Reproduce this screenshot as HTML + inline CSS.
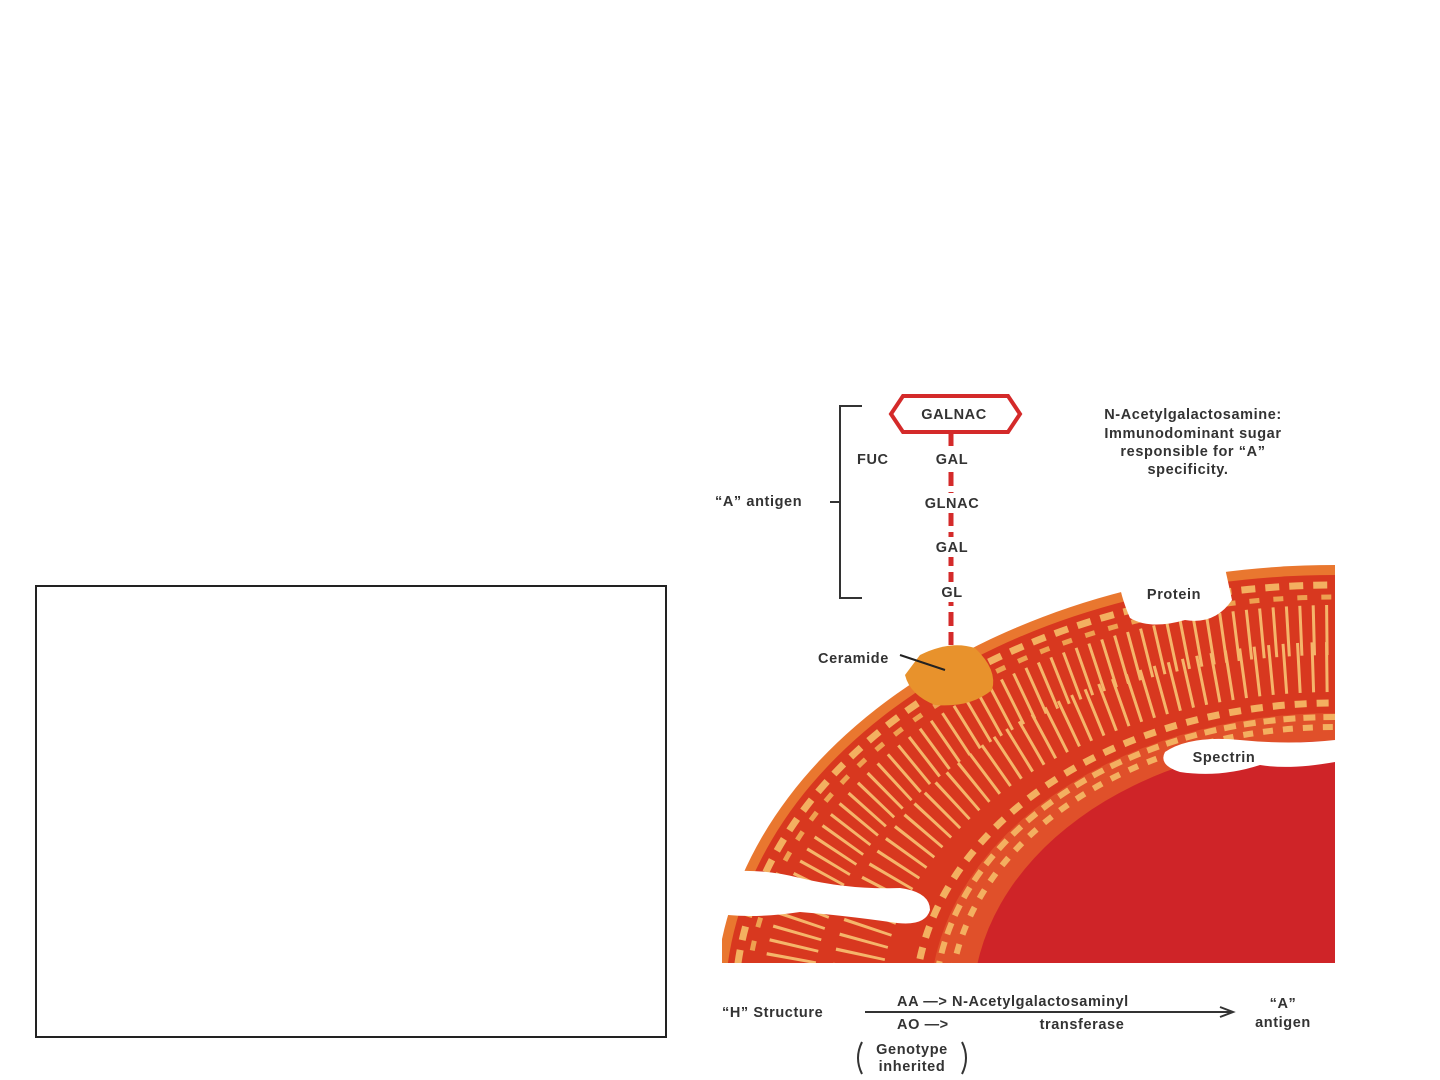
<!DOCTYPE html>
<html><head><meta charset="utf-8"><style>
html,body{margin:0;padding:0;background:#fff;overflow:hidden;width:1440px;height:1080px;}
body{position:relative;font-family:"Liberation Sans",sans-serif;}
.box{position:absolute;left:35px;top:585px;width:628px;height:449px;border:2px solid #222;}
svg{position:absolute;left:0;top:0;display:block;}
text{font-family:"Liberation Sans",sans-serif;font-weight:bold;fill:#333;font-size:14.5px;letter-spacing:0.6px;}
</style></head><body>
<div class="box"></div>
<svg width="1440" height="1080" viewBox="0 0 1440 1080">
<defs><clipPath id="c"><rect x="722" y="540" width="613" height="423"/></clipPath></defs>
<g clip-path="url(#c)">
<ellipse cx="1335" cy="1005" rx="620" ry="440" fill="#e9772f"/>
<ellipse cx="1335" cy="1005" rx="610" ry="430" fill="#d8381f"/>
<ellipse cx="1335" cy="1005" rx="600" ry="420" fill="none" stroke="#f3b060" stroke-width="7" stroke-dasharray="14 10"/>
<ellipse cx="1335" cy="1005" rx="588" ry="408" fill="none" stroke="#eea050" stroke-width="5" stroke-dasharray="10 14"/>
<ellipse cx="1335" cy="1005" rx="548" ry="375" fill="none" stroke="#f5b56a" stroke-width="50" stroke-dasharray="3 10"/>
<ellipse cx="1335" cy="1005" rx="480" ry="338" fill="none" stroke="#f5b56a" stroke-width="50" stroke-dasharray="3 11"/>
<ellipse cx="1335" cy="1005" rx="420" ry="302" fill="none" stroke="#f3b060" stroke-width="7" stroke-dasharray="12 10"/>
<ellipse cx="1335" cy="1005" rx="405" ry="292" fill="#e0502a"/>
<ellipse cx="1335" cy="1005" rx="400" ry="288" fill="none" stroke="#f3b060" stroke-width="6" stroke-dasharray="12 8"/>
<ellipse cx="1335" cy="1005" rx="385" ry="278" fill="none" stroke="#f3b060" stroke-width="6" stroke-dasharray="10 10"/>
<ellipse cx="1335" cy="1005" rx="362" ry="264" fill="#cf2428"/>
</g>
<path d="M1118,575 Q1170,555 1225,568 L1232,600 Q1215,625 1185,620 Q1150,630 1130,618 Q1120,595 1118,575 Z" fill="#fff"/>
<path d="M1165,752 Q1190,735 1240,740 Q1290,745 1335,740 L1335,762 Q1290,770 1260,765 Q1220,778 1180,772 Q1158,765 1165,752 Z" fill="#fff"/>
<path d="M726,872 Q760,868 800,878 Q850,890 900,888 Q930,892 930,910 Q925,928 890,922 Q840,915 800,912 Q760,918 728,915 Z" fill="#fff"/>
<path d="M920,655 Q950,640 975,648 Q998,670 992,690 Q970,708 935,705 Q910,695 905,675 Z" fill="#e8922c"/>
<line x1="900" y1="655" x2="945" y2="670" stroke="#222" stroke-width="2"/>
<line x1="951" y1="432" x2="951" y2="645" stroke="#d42a2a" stroke-width="5" stroke-dasharray="14 6"/>
<rect x="928" y="448" width="48" height="20" fill="#fff"/><rect x="912" y="493" width="82" height="20" fill="#fff"/>
<rect x="928" y="537" width="48" height="20" fill="#fff"/><rect x="935" y="582" width="32" height="20" fill="#fff"/>
<polygon points="903,396 1008,396 1020,414 1008,432 903,432 891,414" fill="#fff" stroke="#d42a2a" stroke-width="4"/>
<text x="954" y="419" text-anchor="middle">GALNAC</text>
<text x="857" y="464">FUC</text>
<text x="952" y="464" text-anchor="middle">GAL</text>
<text x="952" y="508" text-anchor="middle">GLNAC</text>
<text x="952" y="552" text-anchor="middle">GAL</text>
<text x="952" y="597" text-anchor="middle">GL</text>
<path d="M862,406 L840,406 L840,598 L862,598 M840,502 L830,502" fill="none" stroke="#333" stroke-width="2"/>
<text x="715" y="506">“A” antigen</text>
<text x="1193" y="419" text-anchor="middle">N-Acetylgalactosamine:</text>
<text x="1193" y="438" text-anchor="middle">Immunodominant sugar</text>
<text x="1193" y="456" text-anchor="middle">responsible for “A”</text>
<text x="1188" y="474" text-anchor="middle">specificity.</text>
<text x="818" y="663">Ceramide</text>
<text x="1174" y="599" text-anchor="middle">Protein</text>
<text x="1224" y="762" text-anchor="middle">Spectrin</text>
<text x="722" y="1017">“H” Structure</text>
<line x1="865" y1="1012" x2="1232" y2="1012" stroke="#333" stroke-width="2"/>
<path d="M1220,1007 L1233,1012 L1220,1017" fill="none" stroke="#333" stroke-width="2"/>
<text x="897" y="1006">AA —&gt;  N-Acetylgalactosaminyl</text>
<text x="897" y="1029">AO —&gt;</text>
<text x="1082" y="1029" text-anchor="middle">transferase</text>
<text x="1283" y="1008" text-anchor="middle">“A”</text>
<text x="1283" y="1027" text-anchor="middle">antigen</text>
<text x="912" y="1054" text-anchor="middle">Genotype</text>
<text x="912" y="1071" text-anchor="middle">inherited</text>
<path d="M862,1042 Q854,1058 862,1074 M962,1042 Q970,1058 962,1074" fill="none" stroke="#333" stroke-width="2"/>
</svg>
</body></html>
